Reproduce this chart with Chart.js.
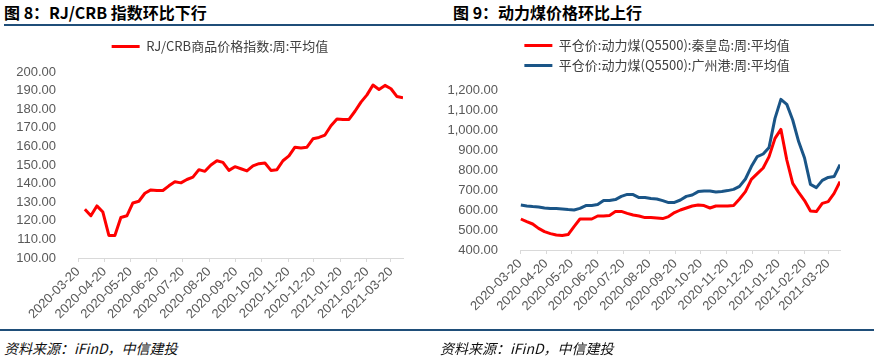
<!DOCTYPE html>
<html lang="zh-CN">
<head>
<meta charset="UTF-8">
<title>RJ/CRB 指数与动力煤价格</title>
<script src="https://cdn.jsdelivr.net/npm/chart.js@4.4.1/dist/chart.umd.min.js"></script>
<style>
    * { margin: 0; padding: 0; box-sizing: border-box; }
    body { width: 877px; height: 359px; background: #fff; position: relative; overflow: hidden; font-family: "Noto Sans CJK SC", sans-serif; }
    .title { position: absolute; top: 2px; line-height: 20px; font-size: 16px; font-weight: bold; color: #000; white-space: nowrap; }
    .rule { position: absolute; height: 2px; background: #1f4e79; }
    .source { position: absolute; top: 339px; line-height: 18px; font-size: 14px; font-style: italic; color: #111; white-space: nowrap; }
    canvas { position: absolute; }
</style>
</head>
<body>
    <div class="title" style="left:4px">图 8：RJ/CRB 指数环比下行</div>
    <div class="title" style="left:453px">图 9：动力煤价格环比上行</div>
    <div class="rule" style="left:4px; width:870px; top:24px"></div>

    <canvas id="rjcrbChart" width="440" height="300" style="left:0; top:30px"></canvas>
    <canvas id="coalChart" width="440" height="298" style="left:437px; top:32px"></canvas>

    <div class="rule" style="left:0; width:874px; top:329px"></div>
    <div class="source" style="left:4px">资料来源：iFinD，中信建投</div>
    <div class="source" style="left:440px">资料来源：iFinD，中信建投</div>

<script>
    // weekly observations (Saturdays)
    const weekDates = [
        '2020-03-21', '2020-03-28', '2020-04-04', '2020-04-11', '2020-04-18', '2020-04-25',
        '2020-05-02', '2020-05-09', '2020-05-16', '2020-05-23', '2020-05-30',
        '2020-06-06', '2020-06-13', '2020-06-20', '2020-06-27',
        '2020-07-04', '2020-07-11', '2020-07-18', '2020-07-25',
        '2020-08-01', '2020-08-08', '2020-08-15', '2020-08-22', '2020-08-29',
        '2020-09-05', '2020-09-12', '2020-09-19', '2020-09-26',
        '2020-10-03', '2020-10-10', '2020-10-17', '2020-10-24', '2020-10-31',
        '2020-11-07', '2020-11-14', '2020-11-21', '2020-11-28',
        '2020-12-05', '2020-12-12', '2020-12-19', '2020-12-26',
        '2021-01-02', '2021-01-09', '2021-01-16', '2021-01-23', '2021-01-30',
        '2021-02-06', '2021-02-13', '2021-02-20', '2021-02-27',
        '2021-03-06', '2021-03-13', '2021-03-20', '2021-03-27', '2021-04-03'
    ];
    const rjcrbDates = weekDates.slice(1);

    const tickLabels = [
        '2020-03-20', '2020-04-20', '2020-05-20', '2020-06-20', '2020-07-20',
        '2020-08-20', '2020-09-20', '2020-10-20', '2020-11-20', '2020-12-20',
        '2021-01-20', '2021-02-20', '2021-03-20'
    ];

    // RJ/CRB商品价格指数:周:平均值
    const rjcrbValues = [
        126.2, 122.7, 128.0, 124.7, 112.1, 112.1, 121.8, 122.7, 129.6, 130.5,
        134.8, 136.6, 136.3, 136.3, 138.8, 141.0, 140.4, 142.2, 143.5, 147.5,
        146.6, 150.0, 152.3, 151.4, 147.1, 149.1, 148.0, 146.8, 149.5, 150.7,
        151.1, 147.1, 147.5, 152.3, 154.9, 159.6, 159.2, 159.6, 164.1, 164.8,
        166.1, 171.1, 174.7, 174.5, 174.5, 178.9, 183.8, 187.7, 193.0, 190.6,
        192.8, 191.0, 186.8, 186.1
    ];

    // 平仓价:动力煤(Q5500):秦皇岛:周:平均值
    const qhdValues = [
        555, 542, 530, 508, 492, 482, 475, 472, 477, 517,
        555, 555, 555, 570, 570, 573, 592, 593, 583, 575,
        570, 562, 562, 560, 557, 567, 587, 600, 610, 620,
        625, 622, 610, 620, 620, 620, 623, 655, 692, 753,
        782, 810, 867, 958, 1003, 850, 733, 688, 647, 595,
        592, 633, 642, 683, 742
    ];

    // 平仓价:动力煤(Q5500):广州港:周:平均值
    const gzValues = [
        625, 620, 617, 615, 610, 607, 607, 605, 602, 600,
        608, 622, 623, 627, 647, 647, 652, 668, 678, 677,
        662, 662, 657, 655, 647, 637, 638, 650, 668, 675,
        692, 695, 695, 690, 693, 697, 703, 718, 755, 817,
        867, 880, 913, 1058, 1153, 1128, 1050, 942, 860, 728,
        712, 748, 763, 767, 827
    ];

    const origin = Date.parse('2020-03-20');
    const dayOf = d => (Date.parse(d) - origin) / 86400000;
    const tickDays = tickLabels.map(dayOf);
    const lastDay = dayOf(weekDates[weekDates.length - 1]);

    const axisFont = { family: '"Liberation Sans", Arial, sans-serif', size: 13 };
    const legendFont = { family: '"Noto Sans CJK SC", sans-serif', size: 13 };

    function points(dates, values) {
        return dates.map((d, i) => ({ x: dayOf(d), y: values[i] }));
    }

    // pushes the plot area down below the legend
    const legendGap = {
        id: 'legendGap',
        beforeInit(chart, args, opts) {
            const legend = chart.legend;
            const fit = legend.fit;
            legend.fit = function () {
                fit.call(this);
                this.height += opts.extra || 0;
            };
        }
    };

    function lineSet(label, color, dates, values) {
        return {
            label: label,
            data: points(dates, values),
            yAxisID: 'y',
            borderColor: color,
            backgroundColor: color,
            borderWidth: 3,
            pointRadius: 0,
            tension: 0,
            borderJoinStyle: 'round'
        };
    }

    function makeChart(id, datasets, cfg) {
        return new Chart(document.getElementById(id), {
            type: 'line',
            data: { datasets: datasets },
            plugins: [legendGap],
            options: {
                responsive: false,
                animation: false,
                layout: { padding: 0 },
                plugins: {
                    legendGap: { extra: cfg.gap },
                    tooltip: { enabled: false },
                    legend: {
                        position: 'top',
                        labels: {
                            boxWidth: 28,
                            boxHeight: 3,
                            padding: cfg.legendPad,
                            color: '#404040',
                            font: legendFont,
                            generateLabels(chart) {
                                return Chart.defaults.plugins.legend.labels.generateLabels(chart)
                                    .map(item => Object.assign(item, { lineWidth: 0 }));
                            }
                        }
                    }
                },
                scales: {
                    x: {
                        type: 'linear',
                        min: 0,
                        max: lastDay,
                        afterBuildTicks(scale) {
                            scale.ticks = tickDays.map(v => ({ value: v }));
                        },
                        afterFit(scale) { scale.height = cfg.xHeight; },
                        ticks: {
                            autoSkip: false,
                            minRotation: 45,
                            maxRotation: 45,
                            padding: 2,
                            color: '#595959',
                            font: axisFont,
                            callback: (v, i) => tickLabels[i]
                        },
                        grid: { drawOnChartArea: false, drawTicks: true, tickLength: 4, color: '#d9d9d9' },
                        border: { display: true, color: '#d9d9d9', width: 1 }
                    },
                    y: {
                        min: cfg.yMin,
                        max: cfg.yMax,
                        afterFit(scale) { scale.width = cfg.yWidth; },
                        ticks: {
                            stepSize: cfg.yStep,
                            padding: 14,
                            color: '#595959',
                            font: axisFont,
                            callback: cfg.fmt
                        },
                        grid: { display: false },
                        border: { display: false }
                    },
                    // empty strip on the right so the legend stays centred on the panel
                    yPad: {
                        position: 'right',
                        afterFit(scale) { scale.width = cfg.rightPad; },
                        ticks: { display: false },
                        grid: { display: false },
                        border: { display: false }
                    }
                }
            }
        });
    }

    makeChart('rjcrbChart', [
        lineSet('RJ/CRB商品价格指数:周:平均值', '#ff0000', rjcrbDates, rjcrbValues)
    ], {
        yMin: 100, yMax: 200, yStep: 10, yWidth: 78, xHeight: 72,
        rightPad: 37, legendPad: 10, gap: 9,
        fmt: v => v.toFixed(2)
    });

    makeChart('coalChart', [
        lineSet('平仓价:动力煤(Q5500):秦皇岛:周:平均值', '#ff0000', weekDates, qhdValues),
        lineSet('平仓价:动力煤(Q5500):广州港:周:平均值', '#1a5587', weekDates, gzValues)
    ], {
        yMin: 400, yMax: 1200, yStep: 100, yWidth: 83, xHeight: 80,
        rightPad: 37, legendPad: 7, gap: 8,
        fmt: v => v.toLocaleString('en-US', { minimumFractionDigits: 2, maximumFractionDigits: 2 })
    });
</script>
</body>
</html>
